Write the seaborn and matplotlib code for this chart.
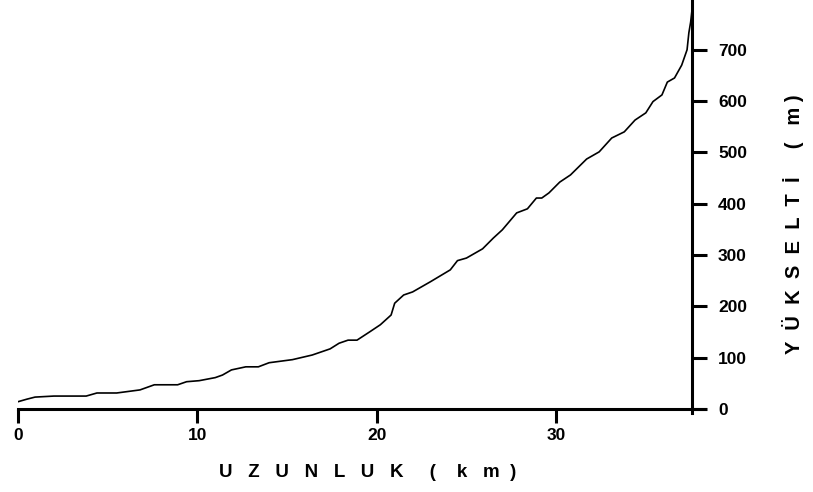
import pandas as pd
import seaborn as sns
import matplotlib.pyplot as plt

# profile: distance along the stream (km) vs elevation (m)
distance_km = [0.0, 0.5, 0.95, 2.0, 3.8, 4.4, 5.5, 6.8, 7.6, 8.9, 9.4, 10.1, 11.0,
               11.4, 11.9, 12.7, 13.4, 14.0, 15.3, 16.4, 17.4, 17.9, 18.4, 18.9,
               19.6, 20.2, 20.8, 21.0, 21.5, 22.0, 23.0, 24.1, 24.5, 25.0, 25.9,
               26.5, 27.0, 27.8, 28.4, 28.9, 29.2, 29.6, 30.2, 30.8, 31.7, 32.4,
               33.1, 33.8, 34.4, 35.0, 35.4, 35.9, 36.2, 36.6, 37.0, 37.3, 37.4,
               37.5, 37.6]
elevation_m = [14, 19, 23, 25, 25, 31, 31, 37, 47, 47, 53, 55, 61,
               66, 76, 82, 82, 90, 96, 105, 117, 128, 134, 134,
               150, 164, 183, 206, 222, 228, 248, 271, 289, 294, 312,
               333, 349, 382, 390, 411, 411, 421, 442, 456, 487, 501,
               528, 540, 563, 577, 599, 612, 637, 645, 670, 700, 733,
               754, 785]

x_ticks = [0, 10, 20, 30]
y_ticks = [0, 100, 200, 300, 400, 500, 600, 700]
x_label = 'U   Z   U   N   L   U   K     (    k   m  )'
y_label = 'Y  Ü  K  S  E  L  T  İ     (   m )'

sns.set_theme(style='white')
plt.rcParams['font.family'] = ['Liberation Sans', 'DejaVu Sans']

fig = plt.figure(figsize=(8.13, 4.92), dpi=100)
ax = fig.add_axes([18 / 813, 1 - 413 / 492, (705 - 18) / 813, 413 / 492])

df = pd.DataFrame({'km': distance_km, 'm': elevation_m})
sns.lineplot(data=df, x='km', y='m', color='black', linewidth=1.2, ax=ax)

ax.set_xlim(0, 38.3)
ax.set_ylim(-8, 797)
ax.set_xlabel('')
ax.set_ylabel('')

# axes cross at the mouth (x=0 line) and at the source (right end)
ax.spines['left'].set_visible(False)
ax.spines['top'].set_visible(False)
ax.spines['bottom'].set_position(('data', 0))
ax.spines['right'].set_position(('data', 37.6))
for s in ['bottom', 'right']:
    ax.spines[s].set_linewidth(2.2)
    ax.spines[s].set_color('black')

ax.yaxis.tick_right()
ax.set_xticks(x_ticks, labels=[str(t) for t in x_ticks], fontweight='bold')
ax.set_yticks(y_ticks, labels=[str(t) for t in y_ticks], fontweight='bold')
ax.tick_params(axis='x', direction='out', length=10, width=2.2, pad=4,
               labelsize=12.5, colors='black', bottom=True)
ax.tick_params(axis='y', direction='out', length=10.5, width=2.2, pad=8,
               labelsize=12.5, colors='black', right=True, left=False)

fig.text(368 / 813, 1 - 477 / 492, x_label, ha='center', va='baseline',
         fontsize=13.5, fontweight='bold', color='black')
fig.text(800 / 813, 1 - 224 / 492, y_label, ha='center', va='baseline',
         rotation=90, rotation_mode='anchor', fontsize=14.5, fontweight='bold',
         color='black')

fig.savefig('out.png', dpi=100, facecolor='white')
